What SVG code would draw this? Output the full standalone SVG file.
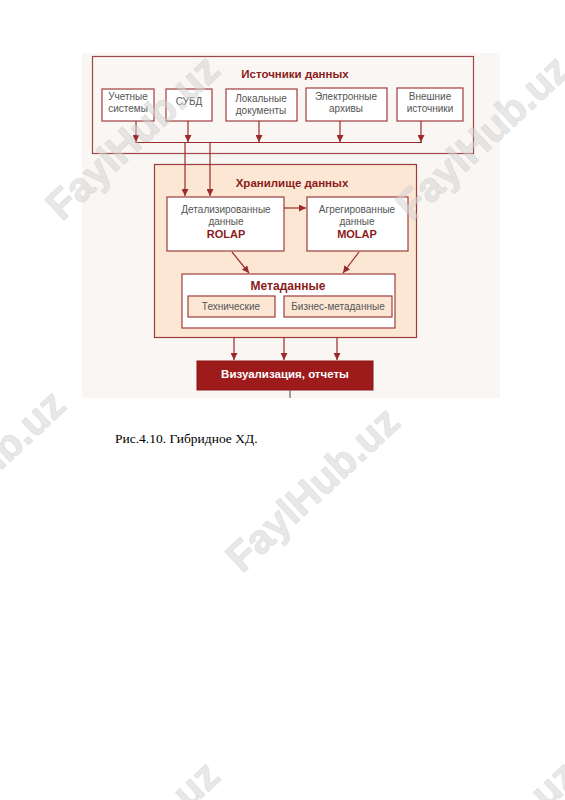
<svg xmlns="http://www.w3.org/2000/svg" width="565" height="800" viewBox="0 0 565 800">
<defs>
<marker id="ah" viewBox="0 0 10 10" refX="10" refY="5" markerWidth="7" markerHeight="7" markerUnits="userSpaceOnUse" orient="auto"><path d="M0,0 L10,5 L0,10 z" fill="#9b2a2a"/></marker>
<style>
.frame{fill:none;stroke:#a04848;stroke-width:1.2}
.box{fill:#ffffff;stroke:#9e3c3c;stroke-width:1.2}
.peach{fill:#fce6d4;stroke:#9e3c3c;stroke-width:1.2}
.t{font-family:"Liberation Sans",Arial,sans-serif;font-size:10px;fill:#555;text-anchor:middle}
.h{font-family:"Liberation Sans",Arial,sans-serif;font-size:11.5px;font-weight:bold;fill:#8b1c1c;text-anchor:middle}
.b{font-family:"Liberation Sans",Arial,sans-serif;font-size:11px;font-weight:bold;fill:#8b1c1c;text-anchor:middle}
.ln{fill:none;stroke:#9b2a2a;stroke-width:1.2}
.arr{fill:none;stroke:#9b2a2a;stroke-width:1.2;marker-end:url(#ah)}
.wm{font-family:"Liberation Sans",Arial,sans-serif;font-size:41px;font-weight:bold;fill:#d6d6d6;stroke:#c4c4c4;stroke-width:0.7;opacity:0.55}
</style>
</defs>
<rect x="0" y="0" width="565" height="800" fill="#ffffff"/>
<rect x="82" y="53" width="418" height="345" fill="#f9f6f3"/>

<g id="sources">
<rect class="frame" x="92.5" y="56.5" width="381" height="97" fill="#faf6f3"/>
<text class="h" x="295" y="78">Источники данных</text>
</g>
<g id="src-uchet"><rect class="box" x="102" y="89" width="52" height="32"/><text class="t" x="128" y="100">Учетные</text><text class="t" x="128" y="112">системы</text></g>
<g id="src-subd"><rect class="box" x="166" y="89" width="46" height="32"/><text class="t" x="189" y="105">СУБД</text></g>
<g id="src-local"><rect class="box" x="226" y="89" width="71" height="32"/><text class="t" x="261" y="102">Локальные</text><text class="t" x="261" y="114">документы</text></g>
<g id="src-electr"><rect class="box" x="306" y="88" width="81" height="33"/><text class="t" x="346" y="100">Электронные</text><text class="t" x="346" y="112">архивы</text></g>
<g id="src-ext"><rect class="box" x="397" y="88" width="66" height="33"/><text class="t" x="430" y="100">Внешние</text><text class="t" x="430" y="112">источники</text></g>

<g id="warehouse">
<rect class="peach" x="154.5" y="164.5" width="262" height="173"/>
<text class="h" x="292" y="187">Хранилище данных</text>
</g>
<g id="rolap"><rect class="box" x="167" y="197" width="117" height="54"/><text class="t" x="226" y="213">Детализированные</text><text class="t" x="226" y="225">данные</text><text class="b" x="226" y="238">ROLAP</text></g>
<g id="molap"><rect class="box" x="307" y="197" width="101" height="54"/><text class="t" x="357" y="213">Агрегированные</text><text class="t" x="357" y="225">данные</text><text class="b" x="357" y="238">MOLAP</text></g>
<g id="meta">
<rect class="box" x="182" y="274" width="213" height="54"/>
<text class="h" x="288" y="290" style="font-size:12px">Метаданные</text>
</g>
<g id="meta-tech"><rect class="peach" x="188" y="296" width="87" height="21"/><text class="t" x="231" y="310">Технические</text></g>
<g id="meta-bus"><rect class="peach" x="284" y="296" width="108" height="21"/><text class="t" x="338" y="310">Бизнес-метаданные</text></g>

<g id="viz"><rect x="197" y="361" width="176" height="29" fill="#9e1b1b" stroke="#8a1414" stroke-width="1"/><text x="285" y="378" font-family="Liberation Sans,Arial,sans-serif" font-size="11.5" font-weight="bold" fill="#ffffff" text-anchor="middle">Визуализация, отчеты</text></g>

<g id="connectors">
<line class="arr" x1="136" y1="121" x2="136" y2="142"/>
<line class="arr" x1="188" y1="121" x2="188" y2="142"/>
<line class="arr" x1="259" y1="121" x2="259" y2="142"/>
<line class="arr" x1="340" y1="121" x2="340" y2="142"/>
<line class="arr" x1="421" y1="121" x2="421" y2="142"/>
<line class="ln" x1="135" y1="142.5" x2="422" y2="142.5"/>
<line class="arr" x1="185" y1="142" x2="185" y2="196"/>
<line class="arr" x1="210" y1="142" x2="210" y2="196"/>
<line class="arr" x1="284" y1="208" x2="306" y2="208"/>
<line class="arr" x1="232" y1="252" x2="249" y2="273"/>
<line class="arr" x1="359" y1="252" x2="343" y2="273"/>
<line class="arr" x1="234" y1="338" x2="234" y2="360"/>
<line class="arr" x1="284" y1="338" x2="284" y2="360"/>
<line class="arr" x1="337" y1="338" x2="337" y2="360"/>
<line x1="290" y1="390" x2="290" y2="398" stroke="#666" stroke-width="1.2"/>
</g>

<text x="115" y="443" font-family="Liberation Serif,Times New Roman,serif" font-size="13.5" fill="#000">Рис.4.10. Гибридное ХД.</text>

<g id="watermarks">
<text class="wm" transform="translate(62,222) rotate(-43)">FaylHub.uz</text>
<text class="wm" transform="translate(412,222) rotate(-43)">FaylHub.uz</text>
<text class="wm" transform="translate(-92,557) rotate(-43)">FaylHub.uz</text>
<text class="wm" transform="translate(242,574) rotate(-43)">FaylHub.uz</text>
<text class="wm" transform="translate(62,928) rotate(-43)">FaylHub.uz</text>
<text class="wm" transform="translate(420,928) rotate(-43)">FaylHub.uz</text>
</g>
</svg>
